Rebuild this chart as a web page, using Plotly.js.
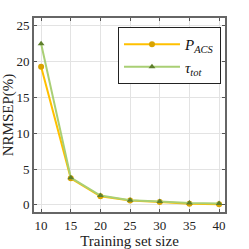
<!DOCTYPE html>
<html><head><meta charset="utf-8">
<script src="https://cdn.plot.ly/plotly-3.0.1.min.js"></script>
<style>html,body{margin:0;padding:0;background:#fff;}#c{width:249px;height:249px;}</style>
</head><body><div id="c"></div>
<script>
const sizes = [10, 15, 20, 25, 30, 35, 40];
const pACS = [19.3, 3.7, 1.2, 0.6, 0.4, 0.15, 0.1];
const tauTot = [22.5, 3.8, 1.3, 0.65, 0.45, 0.25, 0.2];
const xTicks = [10, 15, 20, 25, 30, 35, 40];
const yTicks = [0, 5, 10, 15, 20, 25];

const font = "Liberation Serif, DejaVu Serif, serif";
const traces = [
  {x: sizes, y: pACS, name: "<i>P</i><sub><i>ACS</i></sub>", mode: "lines+markers",
   line: {color: "#FFC000", width: 2}, marker: {color: "#D9A300", size: 6, symbol: "circle"}},
  {x: sizes, y: tauTot, name: "<i>τ</i><sub><i>tot</i></sub>", mode: "lines+markers",
   line: {color: "#A9CF74", width: 2}, marker: {color: "#5E7F2C", size: 6, symbol: "triangle-up"}}
];
const layout = {
  width: 249, height: 249,
  margin: {l: 34, r: 24, t: 18, b: 37},
  paper_bgcolor: "#fff", plot_bgcolor: "#fff",
  font: {family: font, size: 13, color: "#222"},
  showlegend: true,
  legend: {x: 0.979, y: 0.954, xanchor: "right", yanchor: "top", bgcolor: "#fff",
           bordercolor: "#222", borderwidth: 1, font: {family: font, size: 15, color: "#111"},
           tracegroupgap: 0, itemwidth: 56},
  xaxis: {range: [8.8, 41], tickvals: xTicks, ticks: "inside", ticklen: 3, tickcolor: "#555",
          showgrid: true, gridcolor: "#e3e3e3", gridwidth: 1, zeroline: false,
          showline: true, linecolor: "#666", linewidth: 2, mirror: "ticks",
          tickfont: {family: font, size: 13, color: "#222"},
          title: {text: "Training set size", font: {family: font, size: 15, color: "#222"}, standoff: 0}},
  yaxis: {range: [-1, 26.1], tickvals: yTicks, ticks: "inside", ticklen: 3, tickcolor: "#555",
          showgrid: true, gridcolor: "#e3e3e3", gridwidth: 1, zeroline: false,
          showline: true, linecolor: "#666", linewidth: 2, mirror: "ticks",
          tickfont: {family: font, size: 13, color: "#222"},
          title: {text: "NRMSEP(%)", font: {family: font, size: 15, color: "#222"}, standoff: 3}}
};
Plotly.newPlot("c", traces, layout, {staticPlot: true, displayModeBar: false});
</script></body></html>
